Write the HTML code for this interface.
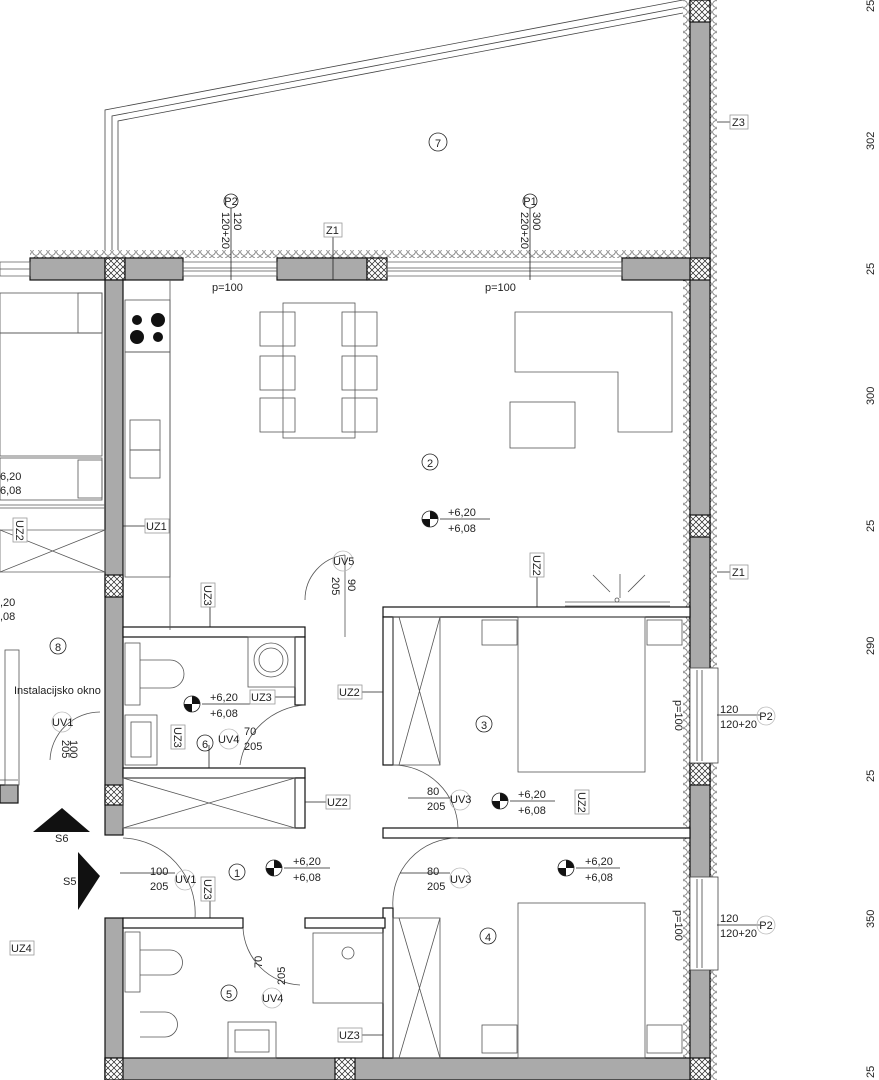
<!DOCTYPE html>
<html><head><meta charset="utf-8"><style>
html,body{margin:0;padding:0;background:#fff}
svg{display:block}
text{font-family:"Liberation Sans",sans-serif;font-size:11px;fill:#222}
</style></head><body>
<svg width="879" height="1080" viewBox="0 0 879 1080" xmlns="http://www.w3.org/2000/svg">
<defs>
<pattern id="x" width="6" height="6" patternUnits="userSpaceOnUse"><rect width="6" height="6" fill="#fff"/><path d="M0 0L6 6M6 0L0 6" stroke="#222" stroke-width="0.7"/></pattern>
<pattern id="ins" width="8" height="8" patternUnits="userSpaceOnUse"><rect width="8" height="8" fill="#fff"/><circle cx="4" cy="4" r="3.3" fill="none" stroke="#444" stroke-width="0.6"/></pattern>
</defs>
<g fill="none" stroke="#444" stroke-width="0.8">
<polyline points="105,250 105,110 683,0"/>
<polyline points="112,250 112,116 683,7"/>
<polyline points="118,250 118,121 683,13"/>
</g>
<rect x="683" y="0" width="34" height="1080" fill="url(#ins)"/>
<g stroke="#111" stroke-width="1.2">
<rect x="690" y="0" width="20" height="1080" fill="#aaa"/>
<rect x="690" y="0" width="20" height="22" fill="url(#x)"/>
<rect x="690" y="258" width="20" height="22" fill="url(#x)"/>
<rect x="690" y="515" width="20" height="22" fill="url(#x)"/>
<rect x="690" y="763" width="20" height="22" fill="url(#x)"/>
<rect x="690" y="1058" width="20" height="22" fill="url(#x)"/>
</g>
<g stroke="#444" stroke-width="0.8">
<rect x="690" y="668" width="28" height="95" fill="#fff"/>
<line x1="697" y1="670" x2="697" y2="761"/><line x1="702" y1="670" x2="702" y2="761"/>
<rect x="690" y="877" width="28" height="93" fill="#fff"/>
<line x1="697" y1="879" x2="697" y2="968"/><line x1="702" y1="879" x2="702" y2="968"/>
</g>
<rect x="30" y="250" width="660" height="8" fill="url(#ins)"/>
<g stroke="#111" stroke-width="1.2">
<rect x="30" y="258" width="75" height="22" fill="#aaa"/>
<rect x="105" y="258" width="20" height="22" fill="url(#x)"/>
<rect x="125" y="258" width="58" height="22" fill="#aaa"/>
<rect x="277" y="258" width="90" height="22" fill="#aaa"/>
<rect x="367" y="258" width="20" height="22" fill="url(#x)"/>
<rect x="622" y="258" width="68" height="22" fill="#aaa"/>
</g>
<g stroke="#555" stroke-width="0.7" fill="none">
<rect x="0" y="262" width="30" height="14"/><line x1="0" y1="269" x2="30" y2="269"/>
<rect x="183" y="262" width="94" height="14"/><line x1="183" y1="268" x2="277" y2="268"/><line x1="183" y1="271" x2="277" y2="271"/>
<rect x="387" y="262" width="235" height="14"/><line x1="387" y1="268" x2="622" y2="268"/><line x1="387" y1="271" x2="622" y2="271"/>
</g>
<g stroke="#111" stroke-width="1.2">
<rect x="105" y="280" width="18" height="555" fill="#aaa"/>
<rect x="105" y="575" width="18" height="22" fill="url(#x)"/>
<rect x="105" y="785" width="18" height="20" fill="url(#x)"/>
<rect x="105" y="918" width="18" height="162" fill="#aaa"/>
<rect x="105" y="1058" width="585" height="22" fill="#aaa"/>
<rect x="105" y="1058" width="18" height="22" fill="url(#x)"/>
<rect x="335" y="1058" width="20" height="22" fill="url(#x)"/>
<rect x="0" y="785" width="18" height="18" fill="#aaa"/>
</g>
<g stroke="#111" stroke-width="1.2" fill="#fff">
<rect x="123" y="627" width="182" height="10"/>
<rect x="295" y="637" width="10" height="68"/>
<rect x="123" y="768" width="182" height="10"/>
<rect x="295" y="778" width="10" height="50"/>
<rect x="383" y="607" width="307" height="10"/>
<rect x="383" y="617" width="10" height="148"/>
<rect x="383" y="828" width="307" height="10"/>
<rect x="383" y="908" width="10" height="150"/>
<rect x="123" y="918" width="120" height="10"/>
<rect x="305" y="918" width="80" height="10"/>
<rect x="0" y="530" width="105" height="42" fill="none" stroke="#555" stroke-width="0.7"/>
</g>
<g fill="none" stroke="#555" stroke-width="0.8">
<rect x="125" y="300" width="45" height="52"/>
<rect x="125" y="352" width="45" height="225"/>
<line x1="170" y1="280" x2="170" y2="630"/>
<rect x="130" y="420" width="30" height="30"/>
<rect x="130" y="450" width="30" height="28"/>
<rect x="283" y="303" width="72" height="135"/>
<rect x="260" y="312" width="35" height="34"/><rect x="260" y="356" width="35" height="34"/><rect x="260" y="398" width="35" height="34"/>
<rect x="342" y="312" width="35" height="34"/><rect x="342" y="356" width="35" height="34"/><rect x="342" y="398" width="35" height="34"/>
<polygon points="515,312 672,312 672,432 618,432 618,372 515,372"/>
<rect x="510" y="402" width="65" height="46"/>
<rect x="0" y="293" width="102" height="40"/><rect x="78" y="293" width="24" height="40"/>
<rect x="0" y="333" width="102" height="123"/>
<rect x="0" y="458" width="102" height="42"/><rect x="78" y="460" width="24" height="38"/>
<path d="M0 505H105M0 508H105"/>
<path d="M0 530L105 572M105 530L0 572"/>
<rect x="393" y="617" width="47" height="148"/><path d="M399 617L440 765M440 617L399 765"/>
<rect x="518" y="617" width="127" height="155"/>
<rect x="482" y="620" width="35" height="25"/><rect x="647" y="620" width="35" height="25"/>
<path d="M565 602H670M565 606H670M620 574V598M593 575L610 592M645 575L628 592"/>
<circle cx="617" cy="600" r="2"/>
<rect x="393" y="918" width="47" height="140"/><path d="M399 918L440 1058M440 918L399 1058"/>
<rect x="518" y="903" width="127" height="155"/>
<rect x="482" y="1025" width="35" height="28"/><rect x="647" y="1025" width="35" height="28"/>
<rect x="313" y="933" width="70" height="70"/><circle cx="348" cy="953" r="6"/>
<rect x="228" y="1022" width="48" height="36"/><rect x="235" y="1030" width="34" height="22"/>
<rect x="125" y="932" width="15" height="60"/>
<path d="M140 950H170A12 12 0 0 1 170 975H140"/>
<path d="M140 1012H165A12 12 0 0 1 165 1037H140"/>
<rect x="125" y="643" width="15" height="62"/>
<path d="M140 660H170A12 12 0 0 1 170 688H140"/>
<rect x="125" y="715" width="32" height="50"/><rect x="131" y="722" width="20" height="35"/>
<rect x="248" y="637" width="47" height="50"/><circle cx="271" cy="660" r="17"/><circle cx="271" cy="660" r="12"/>
<rect x="123" y="778" width="172" height="50"/><path d="M123 778L295 828M295 778L123 828"/>
<path d="M345 555A45 45 0 0 0 305 600"/>
<path d="M305 705A70 70 0 0 0 240 765"/>
<path d="M393 765A65 65 0 0 1 458 828"/>
<path d="M393 908A65 65 0 0 1 458 838"/>
<path d="M123 838A75 75 0 0 1 195 918"/>
<path d="M243 928A60 60 0 0 0 300 985"/>
<path d="M100 712A50 50 0 0 0 50 760"/>
<line x1="345" y1="555" x2="345" y2="637"/>
<rect x="5" y="650" width="14" height="135"/><path d="M0 780H18"/>
</g>
<g fill="#111"><circle cx="137" cy="320" r="5"/><circle cx="158" cy="320" r="7"/><circle cx="137" cy="337" r="7"/><circle cx="158" cy="337" r="5"/></g>
<polygon points="33,832 62,808 90,832" fill="#111"/>
<polygon points="78,852 100,876 78,910" fill="#111"/>
<g fill="#111">
<path d="M430 511A8 8 0 0 1 438 519H430Z"/><path d="M430 527A8 8 0 0 1 422 519H430Z"/>
<path d="M192 696A8 8 0 0 1 200 704H192Z"/><path d="M192 712A8 8 0 0 1 184 704H192Z"/>
<path d="M500 793A8 8 0 0 1 508 801H500Z"/><path d="M500 809A8 8 0 0 1 492 801H500Z"/>
<path d="M274 860A8 8 0 0 1 282 868H274Z"/><path d="M274 876A8 8 0 0 1 266 868H274Z"/>
<path d="M566 860A8 8 0 0 1 574 868H566Z"/><path d="M566 876A8 8 0 0 1 558 868H566Z"/>
</g>
<g fill="none" stroke="#222" stroke-width="0.8">
<circle cx="430" cy="519" r="8"/><circle cx="192" cy="704" r="8"/><circle cx="500" cy="801" r="8"/><circle cx="274" cy="868" r="8"/><circle cx="566" cy="868" r="8"/>
<path d="M440 519H490M202 704H250M510 801H555M284 868H330M576 868H620"/>
<circle cx="438" cy="142" r="9"/><circle cx="430" cy="462" r="8"/><circle cx="484" cy="724" r="8"/><circle cx="488" cy="936" r="8"/><circle cx="237" cy="872" r="8"/><circle cx="205" cy="743" r="8"/><circle cx="229" cy="993" r="8"/><circle cx="58" cy="646" r="8"/>
<circle cx="231" cy="201" r="7"/><circle cx="530" cy="201" r="7"/>
<path d="M231 208V280M530 208V280M333 236V280M120 873H175M400 873H450M408 798H450"/>
<path d="M717 122H730M717 572H730M717 715H760M717 925H760M123 526H145M537 577V607M210 607V627M295 697H275M305 802H326M383 692H362M210 897V918M383 1035H362M209 745V768"/>
</g>
<g fill="#fff" stroke="#999" stroke-width="0.8">
<rect x="324" y="223" width="18" height="14"/><rect x="730" y="115" width="18" height="14"/><rect x="730" y="565" width="18" height="14"/>
<rect x="145" y="519" width="24" height="14"/><rect x="250" y="690" width="25" height="14"/><rect x="326" y="795" width="24" height="14"/>
<rect x="338" y="685" width="24" height="14"/><rect x="338" y="1028" width="24" height="14"/><rect x="10" y="941" width="24" height="14"/>
<rect x="530" y="553" width="14" height="24"/><rect x="575" y="790" width="14" height="24"/><rect x="201" y="583" width="14" height="24"/>
<rect x="171" y="725" width="14" height="24"/><rect x="201" y="877" width="14" height="24"/><rect x="13" y="518" width="14" height="24"/>
</g>
<g stroke="#bbb" fill="none" stroke-width="0.8"><circle cx="766" cy="716" r="9"/><circle cx="766" cy="925" r="9"/><circle cx="460" cy="800" r="10"/><circle cx="460" cy="878" r="10"/><circle cx="185" cy="880" r="10"/><circle cx="229" cy="739" r="10"/><circle cx="272" cy="998" r="10"/><circle cx="62" cy="722" r="10"/><circle cx="343" cy="561" r="10"/></g>
<text x="326" y="234">Z1</text><text x="732" y="126">Z3</text><text x="732" y="576">Z1</text>
<text x="146" y="530">UZ1</text><text x="251" y="701">UZ3</text><text x="327" y="806">UZ2</text><text x="339" y="696">UZ2</text><text x="339" y="1039">UZ3</text><text x="11" y="952">UZ4</text>
<g font-size="11">
<text transform="translate(533,555) rotate(90)">UZ2</text><text transform="translate(578,792) rotate(90)">UZ2</text>
<text transform="translate(204,585) rotate(90)">UZ3</text><text transform="translate(174,727) rotate(90)">UZ3</text>
<text transform="translate(204,879) rotate(90)">UZ3</text><text transform="translate(16,520) rotate(90)">UZ2</text>
</g>
<g font-size="13" text-anchor="middle">
<text x="438" y="147">7</text><text x="430" y="467">2</text><text x="484" y="729">3</text><text x="488" y="941">4</text><text x="237" y="877">1</text><text x="205" y="748">6</text><text x="229" y="998">5</text><text x="58" y="651">8</text>
<text x="231" y="205" font-size="10">P2</text><text x="530" y="205" font-size="10">P1</text>
<text x="766" y="720" font-size="10">P2</text><text x="766" y="929" font-size="10">P2</text>
</g>
<text transform="translate(234,212) rotate(90)" font-size="10">120</text><text transform="translate(222,212) rotate(90)" font-size="10">120+20</text>
<text transform="translate(533,212) rotate(90)" font-size="10">300</text><text transform="translate(521,212) rotate(90)" font-size="10">220+20</text>
<text x="212" y="291">p=100</text><text x="485" y="291">p=100</text>
<text x="448" y="516">+6,20</text><text x="448" y="532">+6,08</text>
<text x="210" y="701">+6,20</text><text x="210" y="717">+6,08</text>
<text x="518" y="798">+6,20</text><text x="518" y="814">+6,08</text>
<text x="293" y="865">+6,20</text><text x="293" y="881">+6,08</text>
<text x="585" y="865">+6,20</text><text x="585" y="881">+6,08</text>
<text x="0" y="480">6,20</text><text x="0" y="494">6,08</text><text x="0" y="606">,20</text><text x="0" y="620">,08</text>
<text x="333" y="565">UV5</text><text transform="translate(332,577) rotate(90)">205</text><text transform="translate(348,579) rotate(90)">90</text>
<text x="218" y="743">UV4</text><text x="244" y="735">70</text><text x="244" y="750">205</text>
<text x="427" y="795">80</text><text x="427" y="810">205</text><text x="450" y="803">UV3</text>
<text x="427" y="875">80</text><text x="427" y="890">205</text><text x="450" y="883">UV3</text>
<text x="150" y="875">100</text><text x="150" y="890">205</text><text x="175" y="883">UV1</text>
<text x="262" y="1002">UV4</text><text transform="translate(262,968) rotate(-90)">70</text><text transform="translate(285,985) rotate(-90)">205</text>
<text x="52" y="726">UV1</text><text transform="translate(62,740) rotate(90)">205</text><text transform="translate(70,740) rotate(90)">100</text>
<text x="14" y="694">Instalacijsko okno</text>
<text x="55" y="842">S6</text><text x="63" y="885">S5</text>
<text transform="translate(675,700) rotate(90)">p=100</text><text transform="translate(675,910) rotate(90)">p=100</text>
<text x="720" y="713">120</text><text x="720" y="728">120+20</text>
<text x="720" y="922">120</text><text x="720" y="937">120+20</text>
<g font-size="11">
<text transform="translate(874,12) rotate(-90)">25</text><text transform="translate(874,150) rotate(-90)">302</text>
<text transform="translate(874,275) rotate(-90)">25</text><text transform="translate(874,405) rotate(-90)">300</text>
<text transform="translate(874,532) rotate(-90)">25</text><text transform="translate(874,655) rotate(-90)">290</text>
<text transform="translate(874,782) rotate(-90)">25</text><text transform="translate(874,928) rotate(-90)">350</text>
<text transform="translate(874,1078) rotate(-90)">25</text>
</g>
</svg>
</body></html>
